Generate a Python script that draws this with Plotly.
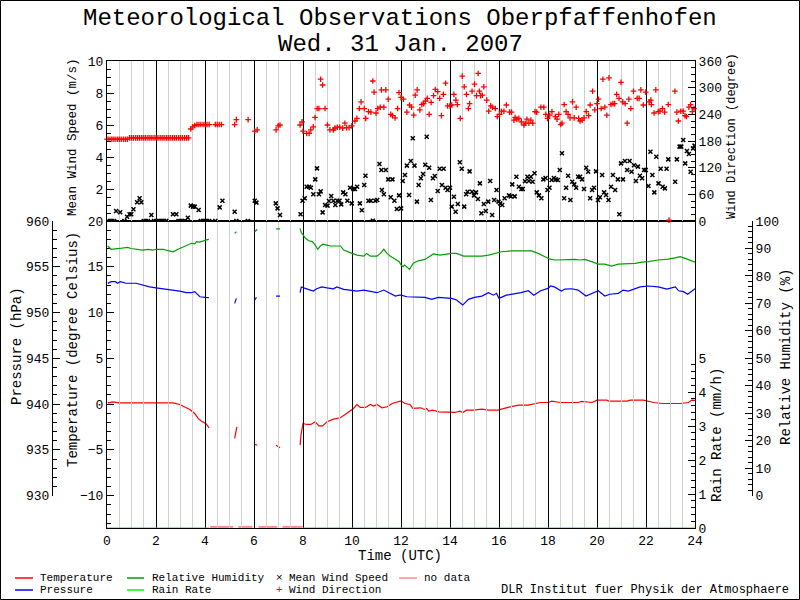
import plotly.graph_objects as go

# ---------------- data ----------------
# Wind direction (degree), red "+"
wd_time = [0.0, 0.08, 0.17, 0.25, 0.33, 0.42, 0.5, 0.58, 0.67, 0.75, 0.83,
           0.92, 1.0, 1.08, 1.17, 1.25, 1.33, 1.42, 1.5, 1.58, 1.67, 1.75, 1.83, 1.92, 2.0,
           2.08, 2.17, 2.25, 2.33, 2.42, 2.5, 2.58, 2.67, 2.75, 2.83, 2.92, 3.0, 3.08, 3.17,
           3.25, 3.33, 3.42, 3.5, 3.58, 3.67, 3.75, 3.83, 3.92, 4.0, 4.08, 4.17,
           4.42, 4.5, 4.58, 4.67, 5.21, 5.28, 5.76, 6.03, 6.13, 6.9, 6.99, 7.06, 7.88, 7.96,
           8.0, 8.15, 8.25, 8.32, 8.42, 8.49, 8.58, 8.65, 8.72, 8.8, 8.9, 9.0, 9.1, 9.24, 9.3,
           9.4, 9.5, 9.62, 9.71, 9.78, 9.88, 9.99, 10.12, 10.2, 10.3, 10.37, 10.5, 10.56, 10.67,
           10.77, 10.85, 10.9, 10.98, 11.05, 11.15, 11.2, 11.3, 11.38, 11.48, 11.58, 11.65,
           11.76, 11.86, 11.92,
           12.0, 12.1, 12.24, 12.35, 12.43, 12.52, 12.58, 12.66, 12.77, 12.85, 12.92, 13.0,
           13.07, 13.15, 13.23, 13.33, 13.4, 13.5, 13.58, 13.65, 13.73, 13.82, 13.9, 14.0,
           14.07, 14.16, 14.24, 14.3, 14.42, 14.5, 14.58, 14.67, 14.75, 14.8, 14.9, 15.0,
           15.08, 15.15, 15.2, 15.25, 15.32, 15.38, 15.5, 15.58, 15.66, 15.73, 15.85, 15.93,
           16.02, 16.1, 16.2, 16.3, 16.43, 16.51, 16.61, 16.66, 16.73, 16.81, 16.91, 17.02,
           17.07, 17.14, 17.22, 17.3, 17.38, 17.47, 17.54, 17.71, 17.83, 17.91, 17.98, 18.07,
           18.16, 18.3, 18.37, 18.44, 18.52, 18.57, 18.66, 18.74, 18.82, 18.9, 19.0, 19.07,
           19.15, 19.25, 19.31, 19.39, 19.47, 19.56, 19.66, 19.72, 19.82, 19.91, 20.0, 20.06,
           20.17, 20.24, 20.32, 20.4, 20.49, 20.57, 20.65, 20.72, 20.8, 20.9, 20.98, 21.05,
           21.15, 21.23, 21.3, 21.38, 21.49, 21.64, 21.72, 21.79, 21.89, 21.99, 22.13, 22.2,
           22.22, 22.33, 22.4, 22.5, 22.57, 22.67, 22.76, 22.91, 22.94, 23.18, 23.26, 23.32,
           23.42, 23.52, 23.59, 23.65, 23.75, 23.82, 23.89, 23.96]
wd_deg = [184, 184, 184, 184, 184, 184, 184, 184, 184, 184, 184,
          187, 187, 187, 187, 187, 187, 187, 187, 187, 187, 187, 187, 187, 187,
          187, 187, 187, 187, 187, 187, 187, 187, 187, 187, 187, 187, 187, 187,
          187, 187, 207, 212, 215, 217, 217, 217, 217, 217, 217, 217,
          217, 217, 217, 217, 217, 228, 228, 202, 205, 205, 214, 216, 216, 223,
          202, 197, 197, 205, 212, 233, 253, 253, 319, 306, 253, 216, 205, 205, 209,
          211, 211, 209, 220, 210, 210, 214, 225, 231, 253, 268, 253, 231, 246,
          245, 315, 290, 243, 253, 256, 295, 256, 295, 274, 240, 237,
          232, 253, 289,
          278, 274, 245, 261, 256, 238, 283, 295, 250, 262, 264, 270,
          276, 240, 267, 282, 296, 291, 276, 237, 285, 310, 259, 259,
          261, 285, 272, 262, 231, 326, 302, 285, 253, 264, 292, 308,
          282, 332, 292, 282, 283, 302, 272, 247, 259, 256, 253, 235,
          240, 247, 247, 261, 245, 245, 227, 233, 229, 231, 223, 216,
          220, 229, 220, 227, 220, 246, 245, 256, 256, 240, 231, 238,
          246, 235, 229, 240, 217, 220, 262, 246, 240, 232, 268, 232,
          256, 231, 225, 227, 232, 246, 237, 261, 292, 250, 264, 274,
          253, 319, 256, 238, 322, 262, 264, 264, 285, 276, 312, 268,
          264, 220, 274, 253, 292, 276, 276, 295, 261, 290, 268, 272,
          262, 243, 295, 246, 247, 253, 245, 262, 2, 292, 245, 225,
          247, 247, 237, 235, 256, 262, 246, 253]

# Mean wind speed (m/s), black "x"
ws_time = [0.04, 0.13, 0.21, 0.29, 0.37, 0.54, 0.71, 0.82, 0.92, 0.99, 1.08, 1.23, 1.33,
           1.4, 1.5, 1.58, 1.67, 1.81, 1.92, 2.0, 2.08, 2.17, 2.25, 2.33, 2.42, 2.69, 2.83,
           2.92, 3.0, 3.08, 3.17, 3.3, 3.42, 3.51, 3.58, 3.74, 3.83, 3.92, 4.0, 4.08, 4.17,
           4.42, 4.6, 4.71, 5.21, 5.28, 5.75, 6.03, 6.1, 6.89, 6.96, 7.06, 7.9, 7.98,
           8.07, 8.15, 8.25, 8.32, 8.42, 8.5, 8.57, 8.65, 8.72, 8.8, 8.9, 9.0, 9.06, 9.15,
           9.24, 9.32, 9.4, 9.49, 9.56, 9.64, 9.73, 9.81, 9.92, 9.99, 10.06, 10.12, 10.21,
           10.32, 10.4, 10.5, 10.55, 10.67, 10.77, 10.85, 10.95, 11.03, 11.12, 11.2, 11.22,
           11.3, 11.38, 11.48, 11.58, 11.65, 11.73, 11.83, 11.92,
           12.0, 12.07, 12.16, 12.24, 12.33, 12.4, 12.48, 12.55, 12.65, 12.72, 12.81, 12.9,
           12.99, 13.05, 13.15, 13.22, 13.3, 13.38, 13.5, 13.58, 13.67, 13.74, 13.82, 13.9,
           14.0, 14.07, 14.16, 14.23, 14.32, 14.4, 14.48, 14.58, 14.66, 14.72, 14.8, 14.9,
           14.98, 15.06, 15.14, 15.22, 15.28, 15.38, 15.46, 15.56, 15.64, 15.72, 15.8, 15.9,
           15.98, 16.05, 16.13, 16.23, 16.41, 16.48, 16.54, 16.64, 16.71, 16.81, 16.91, 16.97,
           17.06, 17.16, 17.22, 17.3, 17.37, 17.45, 17.54, 17.63, 17.73, 17.81, 17.9, 17.98,
           18.06, 18.15, 18.24, 18.32, 18.4, 18.48, 18.57, 18.66, 18.74, 18.82, 18.91, 18.99,
           19.07, 19.15, 19.23, 19.31, 19.39, 19.47, 19.56, 19.64, 19.72, 19.8, 19.88, 19.96,
           20.04, 20.12, 20.21, 20.29, 20.37, 20.47, 20.57, 20.65, 20.74, 20.85, 20.91, 20.98,
           21.06, 21.14, 21.23, 21.33, 21.41, 21.51, 21.59, 21.67, 21.75, 21.84, 21.92, 21.99,
           22.1, 22.18, 22.26, 22.34, 22.42, 22.51, 22.6, 22.68, 22.77, 22.84, 22.91, 23.19,
           23.26, 23.37, 23.44, 23.52, 23.6, 23.67, 23.75, 23.82, 23.92, 23.98]
ws_speed = [0, 0, 0, 0, 0.62, 0.55, 0, 0.27, 0.42, 0.42, 0.73, 1.17, 1.42,
            1.17, 0, 0, 0, 0.38, 0, 0, 0, 0, 0, 0, 0, 0.42, 0.42,
            0, 0, 0, 0, 0.2, 0.96, 0.9, 0.9, 0.69, 0, 0, 0, 0, 0,
            0, 0.85, 1.27, 0.58, 0, 0, 1.27, 1.15, 1.1, 0.79, 0.38, 0.42, 1.27,
            1.42, 2.14, 2.14, 2.08, 1.67, 2.6, 3.29, 1.67, 1.85, 0.54, 1.0, 0.96, 1.25, 1.56,
            1.27, 1.0, 1.27, 1.27, 1.04, 1.79, 1.67, 1.27, 2.08, 1.1, 2.0, 2.0, 2.14,
            1.1, 0.67, 2.25, 2.83, 1.27, 1.27, 0.02, 1.27, 1.31, 3.56, 3.19, 1.94,
            1.67, 3.19, 2.6, 1.48, 2.6, 1.27, 0.75, 1.6,
            0.79, 2.5, 2.88, 3.46, 1.63, 3.75, 5.17, 3.46, 1.21, 2.25, 2.67, 2.94,
            3.52, 5.27, 3.33, 1.31, 2.67, 2.81, 1.88, 3.27, 2.25, 3.27, 2.08, 1.94,
            2.08, 0.9, 1.52, 0.58, 1.06, 3.67, 3.27, 0.9, 1.67, 1.83, 3.1, 1.83,
            1.6, 1.79, 1.38, 2.35, 0.48, 1.06, 0.62, 1.21, 2.5, 0.38, 1.31, 1.94,
            1.21, 1.1, 1.0, 1.42, 1.6, 1.54, 2.29, 1.54, 2.77, 2.14, 2.0, 2.0,
            2.48, 2.77, 2.5, 2.77, 2.45, 2.98, 1.79, 1.6, 1.42, 2.6, 2.69, 1.94,
            2.08, 2.56, 2.69, 2.6, 2.56, 3.19, 4.23, 1.42, 2.08, 2.83, 1.31, 2.45,
            2.29, 2.08, 2.77, 2.77, 2.6, 2.0, 3.33, 3.08, 1.42, 1.94, 2.08, 3.1,
            1.31, 1.48, 2.88, 1.79, 1.63, 1.31, 2.14, 2.88, 1.94, 2.6, 0.42, 3.6,
            2.6, 3.75, 3.19, 3.75, 3.08, 3.48, 2.5, 3.4, 2.83, 2.67, 3.19, 3.19,
            2.19, 4.33, 2.88, 1.79, 4.02, 2.35, 3.27, 2.14, 2.04, 3.27, 3.85, 2.45,
            3.85, 4.65, 4.65, 5.06, 3.6, 4.38, 4.19, 3.08, 4.54, 4.71]

# Temperature (degree Celsius), red line; None = gap
temp_time = [0.03, 0.23, 0.5, 0.98, 1.12, 1.4, 1.6, 2.0, 2.3, 2.7, 2.97, 3.17, 3.38, 3.58,
             3.72, 3.86, 4.03, 4.17, 4.6, 5.21, 5.3, 5.6, 6.03, 6.13, 6.5, 6.9, 6.98, 7.06,
             7.5, 7.88, 7.92, 8.0, 8.15, 8.32, 8.5, 8.65, 8.8, 8.98, 9.24, 9.53, 9.8, 10.06,
             10.2, 10.34, 10.55, 10.75, 10.88, 11.02, 11.23, 11.43, 11.64, 11.93, 12.0, 12.16,
             12.37, 12.48, 12.65, 12.81, 12.95, 13.05, 13.13, 13.3, 13.55, 13.75, 13.95, 14.2,
             14.4, 14.53, 14.67, 14.95, 15.3, 15.57, 15.95, 16.17, 16.37, 16.6, 16.8, 17.2,
             17.48, 17.68, 18.02, 18.15, 18.5, 19.23, 19.37, 19.8, 20.0, 20.4, 20.47, 21.23,
             21.36, 21.9, 22.32, 22.66, 23.4, 23.73, 23.87, 24.0]
temperature = [0.14, 0.25, 0.14, 0.14, 0.07, 0.07, 0.14, 0.07, 0.14, 0.14, -0.04, -0.29, -0.58,
               -1.02, -1.56, -1.86, -2.11, -2.59, None, -3.75, -2.48, None, -4.4, -4.48, None,
               -4.48, -4.62, -4.77, None, -4.48, -3.32, -2.11, -2.22, -2.22, -1.93, -2.37, -2.37,
               -1.93, -1.64, -1.49, -1.02, -0.47, -0.04, -0.36, -0.36, -0.04, -0.22, -0.04, -0.4,
               -0.29, 0.07, 0.33, 0.36, 0.07, -0.04, -0.47, -0.47, -0.4, -0.58, -0.47, -0.77,
               -0.66, -0.84, -0.84, -0.91, -0.91, -0.77, -0.91, -0.66, -0.66, -0.55, -0.66, -0.66,
               -0.47, -0.36, -0.22, -0.11, -0.11, 0.07, 0.18, 0.18, 0.33, 0.18, 0.18, 0.29, 0.18,
               0.44, 0.44, 0.33, 0.33, 0.44, 0.44, 0.18, 0.07, 0.07, 0.18, 0.44, 0.4]

# Pressure (hPa), blue line
pres_time = [0.03, 0.17, 0.35, 0.42, 0.55, 0.78, 1.19, 1.46, 1.74, 2.0, 2.29, 2.49, 2.7, 2.97,
             3.24, 3.45, 3.58, 3.79, 4.0, 4.16, 4.6, 5.21, 5.28, 5.6, 6.03, 6.1, 6.5, 6.9, 7.06,
             7.5, 7.88, 7.93, 8.03, 8.15, 8.27, 8.42, 8.56, 8.77, 8.98, 9.24, 9.38, 9.66, 9.92,
             10.2, 10.48, 10.75, 11.02, 11.3, 11.57, 11.77, 11.93, 12.0, 12.24, 12.65, 12.98,
             13.25, 13.52, 14.07, 14.27, 14.52, 14.75, 15.0, 15.3, 15.57, 15.77, 15.9, 16.0,
             16.3, 16.58, 16.9, 17.2, 17.42, 17.7, 18.0, 18.1, 18.26, 18.55, 18.69, 18.96, 19.23,
             19.55, 19.82, 20.05, 20.32, 20.52, 20.87, 21.07, 21.28, 21.56, 21.76, 22.1, 22.5,
             22.85, 23.2, 23.33, 23.53, 23.7, 23.9, 24.0]
pressure = [953.19, 953.37, 953.37, 953.2, 953.37, 953.2, 953.2, 953.0, 952.8, 952.7, 952.6,
            952.46, 952.4, 952.35, 952.17, 952.17, 952.28, 951.73, 951.66, 951.63, None, 951.0,
            951.55, None, 951.37, 951.66, None, 951.8, 951.8, None, 952.17, 952.8, 952.7, 952.6,
            952.46, 952.35, 952.6, 952.8, 952.7, 952.6, 952.8, 952.53, 952.46, 952.35, 952.46,
            952.28, 952.17, 952.46, 952.1, 951.8, 951.9, 951.9, 951.73, 951.73, 951.66, 951.44,
            951.66, 951.55, 951.37, 950.82, 951.44, 951.66, 951.8, 952.17, 951.9, 952.1, 951.55,
            951.9, 952.0, 952.17, 952.38, 951.9, 952.38, 952.64, 952.9, 952.8, 952.35, 952.57,
            952.6, 952.46, 951.8, 952.1, 952.38, 951.8, 952.0, 952.1, 952.46, 952.35, 952.6,
            952.8, 952.9, 952.8, 952.57, 952.8, 952.38, 952.28, 952.0, 952.46, 952.6]

# Relative humidity (%), green line
rh_time = [0.03, 0.17, 0.5, 0.84, 0.98, 1.46, 1.67, 1.87, 2.0, 2.29, 2.49, 2.7, 2.9, 3.1, 3.31,
           3.45, 3.58, 3.65, 3.79, 3.93, 4.06, 4.16, 4.6, 5.21, 5.28, 5.6, 6.03, 6.13, 6.5, 6.9,
           7.06, 7.5, 7.88, 7.93, 8.0, 8.1, 8.24, 8.38, 8.5, 8.6, 8.71, 8.82, 8.98, 9.11, 9.39,
           9.53, 9.66, 9.8, 10.0, 10.2, 10.48, 10.6, 10.75, 11.02, 11.16, 11.3, 11.43, 11.57,
           11.77, 11.93, 12.0, 12.08, 12.15, 12.35, 12.5, 12.7, 12.98, 13.18, 13.32, 13.59,
           13.86, 14.07, 14.27, 14.55, 14.95, 15.3, 15.57, 15.84, 16.1, 16.5, 17.06, 17.33,
           17.6, 17.87, 18.08, 18.28, 18.69, 19.1, 19.3, 19.5, 19.78, 20.05, 20.32, 20.6, 20.87,
           21.56, 21.83, 22.1, 22.5, 22.91, 23.18, 23.39, 23.6, 23.8, 24.0]
humidity = [90.9, 89.7, 90.0, 90.4, 90.0, 89.4, 89.7, 89.4, 89.7, 89.7, 89.2, 88.8, 89.7, 90.4,
            91.2, 91.9, 91.7, 92.5, 92.3, 92.8, 93.1, 93.3, None, 95.5, 96.1, None, 96.1, 97.0,
            None, 97.1, 97.1, None, 97.3, 95.7, 95.0, 93.7, 92.8, 92.5, 91.2, 89.7, 90.9, 91.6,
            91.2, 90.9, 90.9, 90.9, 89.4, 88.8, 88.2, 87.6, 87.2, 88.2, 87.2, 87.2, 88.2, 89.7,
            88.2, 87.2, 86.0, 85.2, 84.0, 83.4, 84.0, 82.4, 84.6, 85.5, 86.0, 87.0, 88.0, 87.6,
            88.0, 88.2, 88.2, 87.2, 87.2, 87.2, 87.6, 88.2, 88.8, 89.1, 89.2, 89.1, 88.2, 87.0,
            86.1, 85.8, 86.0, 86.0, 85.8, 86.0, 85.2, 84.3, 84.3, 83.6, 84.3, 84.6, 85.0, 85.2,
            85.8, 86.1, 86.6, 87.0, 86.4, 85.8, 85.0]

# Rain rate (mm/h): zero all day
rain_time = [0.0, 4.17, 6.0, 7.98, 24.0]
rain_rate = [0.0, 0.0, None, 0.0, 0.0]

# No-data intervals (UTC hours)
nodata_start = [4.21, 5.36, 6.18, 7.16]
nodata_end = [5.15, 5.93, 6.95, 7.98]

x_ticks = [0, 2, 4, 6, 8, 10, 12, 14, 16, 18, 20, 22, 24]
ws_ticks = [2, 4, 6, 8, 10]

# ---------------- layout geometry (pixels) ----------------
W, H = 800, 600
FONT = "Liberation Mono"
X_L, X_R = 107, 695
Y_TOP, Y_MID, Y_BOT = 61, 221, 528
Y_SCALE_BOT = 495.7   # bottom of pressure / humidity scales
Y_RAIN_TOP = 358
X_PRES, X_RH = 52, 752

def fx(X):
    return X / W

def fy(Y):
    return 1 - Y / H

T_MAX = 20
T_MIN = T_MAX - 30 * (Y_BOT - Y_MID) / (Y_SCALE_BOT - Y_MID)

RED, BLUE, GREEN, LIME, PINK = "#ff0000", "#0000ff", "#00a000", "#00ff00", "#ff8c8c"

nd_x, nd_y = [], []
for a, b in zip(nodata_start, nodata_end):
    nd_x += [a, b, None]
    nd_y += [T_MIN + 0.12, T_MIN + 0.12, None]

fig = go.Figure()
fig.add_trace(go.Scatter(x=rain_time, y=rain_rate, mode="lines", line=dict(color=LIME, width=1.2),
                         xaxis="x", yaxis="y5", name="Rain Rate"))
fig.add_trace(go.Scatter(x=pres_time, y=pressure, mode="lines", line=dict(color=BLUE, width=1.2),
                         xaxis="x", yaxis="y3", name="Pressure"))
fig.add_trace(go.Scatter(x=rh_time, y=humidity, mode="lines", line=dict(color=GREEN, width=1.2),
                         xaxis="x", yaxis="y4", name="Relative Humidity"))
fig.add_trace(go.Scatter(x=nd_x, y=nd_y, mode="lines", line=dict(color=PINK, width=2),
                         xaxis="x", yaxis="y", name="no data"))
fig.add_trace(go.Scatter(x=temp_time, y=temperature, mode="lines", line=dict(color=RED, width=1.2),
                         xaxis="x", yaxis="y", name="Temperature"))
fig.add_trace(go.Scatter(x=ws_time, y=ws_speed, mode="markers",
                         marker=dict(symbol="x-thin", size=4, line=dict(color="black", width=1.5)),
                         xaxis="x2", yaxis="y2", name="Mean Wind Speed"))
fig.add_trace(go.Scatter(x=wd_time, y=wd_deg, mode="markers",
                         marker=dict(symbol="cross-thin", size=4, line=dict(color=RED, width=1.3)),
                         xaxis="x2", yaxis="y6", name="Wind Direction", cliponaxis=False))

tickfont = dict(family=FONT, size=13, color="black")
xdom = [fx(X_L), fx(X_R)]
xcommon = dict(domain=xdom, range=[0, 24], tickmode="array", tickvals=x_ticks,
               showgrid=True, gridcolor="black", gridwidth=1,
               minor=dict(tickmode="linear", dtick=0.5, tick0=0, showgrid=True,
                          gridcolor="#d0d0d0", gridwidth=1, ticks=""),
               showline=True, linecolor="black", linewidth=1, mirror=True, ticks="",
               zeroline=False, tickfont=tickfont)

def ycommon(dtick, minor_dtick, rng, dom):
    return dict(domain=dom, range=rng, dtick=dtick, tick0=0, ticks="inside", ticklen=7,
                tickcolor="black", tickwidth=1, showgrid=False, zeroline=False,
                minor=dict(tickmode="linear", dtick=minor_dtick, tick0=0, ticks="inside", ticklen=4,
                           tickcolor="black", showgrid=False),
                showline=True, linecolor="black", linewidth=1, tickfont=tickfont)

low_dom = [fy(Y_BOT), fy(Y_MID)]
top_dom = [fy(Y_MID), fy(Y_TOP)]
scale_dom = [fy(Y_SCALE_BOT), fy(Y_MID)]
rain_dom = [fy(Y_BOT), fy(Y_RAIN_TOP)]

ws_axis = ycommon(2, 0.5, [0, 10], top_dom)
ws_axis.update(tickmode="array", tickvals=ws_ticks)

fig.update_layout(
    width=W, height=H,
    margin=dict(l=0, r=0, t=0, b=0, autoexpand=False),
    paper_bgcolor="white", plot_bgcolor="rgba(0,0,0,0)",
    showlegend=False,
    xaxis=dict(**xcommon, anchor="y", showticklabels=True),
    xaxis2=dict(**xcommon, anchor="y2", matches="x", showticklabels=False),
    yaxis=dict(**ycommon(5, 1, [T_MIN, T_MAX], low_dom), anchor="x", side="left", mirror=True),
    yaxis2=dict(**ws_axis, anchor="x2", side="left", mirror=True),
    yaxis3=dict(**ycommon(5, 1, [930, 960], scale_dom), anchor="free", position=fx(X_PRES), side="left"),
    yaxis4=dict(**ycommon(10, 2, [0, 100], scale_dom), anchor="free", overlaying="y3",
                position=fx(X_RH), side="right"),
    yaxis5=dict(**ycommon(1, 0.2, [0, 5], rain_dom), anchor="x", side="right"),
    yaxis6=dict(**ycommon(60, 15, [0, 360], top_dom), anchor="x2", overlaying="y2", side="right"),
    yaxis7=dict(domain=low_dom, range=[T_MIN, T_MAX], overlaying="y", anchor="x", side="left",
                tickmode="array", tickvals=[-10, 5], showgrid=True, gridcolor="black", gridwidth=1,
                showticklabels=False, ticks="", showline=False, zeroline=False),
)

def ann(text, X, Y, size, angle=0, color="black", xanchor="center"):
    return dict(text=text, x=fx(X), y=fy(Y), xref="paper", yref="paper", showarrow=False,
                textangle=angle, xanchor=xanchor, yanchor="middle",
                font=dict(family=FONT, size=size, color=color))

annotations = [
    ann("Meteorological Observations Oberpfaffenhofen", 400, 18, 24),
    ann("Wed. 31 Jan. 2007", 400, 45, 24),
    ann("Mean Wind Speed (m/s)", 73, 137, 12.5, -90),
    ann("Temperature (degree Celsius)", 73, 350, 14, -90),
    ann("Pressure (hPa)", 17, 346, 14, -90),
    ann("Wind Direction (degree)", 732, 136, 12, -90),
    ann("Rain Rate (mm/h)", 717, 435, 14, -90),
    ann("Relative Humidity (%)", 786, 357, 14, -90),
    ann("Time (UTC)", 400, 556, 14),
    ann("Temperature", 38, 578, 11, xanchor="left"),
    ann("Pressure", 38, 590, 11, xanchor="left"),
    ann("Relative Humidity", 150, 578, 11, xanchor="left"),
    ann("Rain Rate", 150, 590, 11, xanchor="left"),
    ann("×", 279, 578, 11),
    ann("Mean Wind Speed", 287, 578, 11, xanchor="left"),
    ann("+", 279, 590, 11, color=RED),
    ann("Wind Direction", 287, 590, 11, xanchor="left"),
    ann("no data", 422, 578, 11, xanchor="left"),
    ann("DLR Institut fuer Physik der Atmosphaere", 791, 590, 12, xanchor="right"),
]

def legline(x0, x1, Y, color):
    return dict(type="line", xref="paper", yref="paper", x0=fx(x0), x1=fx(x1), y0=fy(Y), y1=fy(Y),
                line=dict(color=color, width=1.5))

shapes = [
    legline(15, 33, 578, RED), legline(15, 33, 590, BLUE),
    legline(127, 144, 578, GREEN), legline(127, 144, 590, LIME),
    legline(399, 417, 578, PINK),
    dict(type="rect", xref="paper", yref="paper", x0=fx(0.5), x1=fx(W - 0.5), y0=fy(H - 0.5), y1=fy(0.5),
         line=dict(color="black", width=1)),
]

fig.update_layout(annotations=annotations, shapes=shapes)
fig.write_html("out.html", config={"displayModeBar": False},
               post_script="document.body.style.margin='0';document.body.style.overflow='hidden';")
